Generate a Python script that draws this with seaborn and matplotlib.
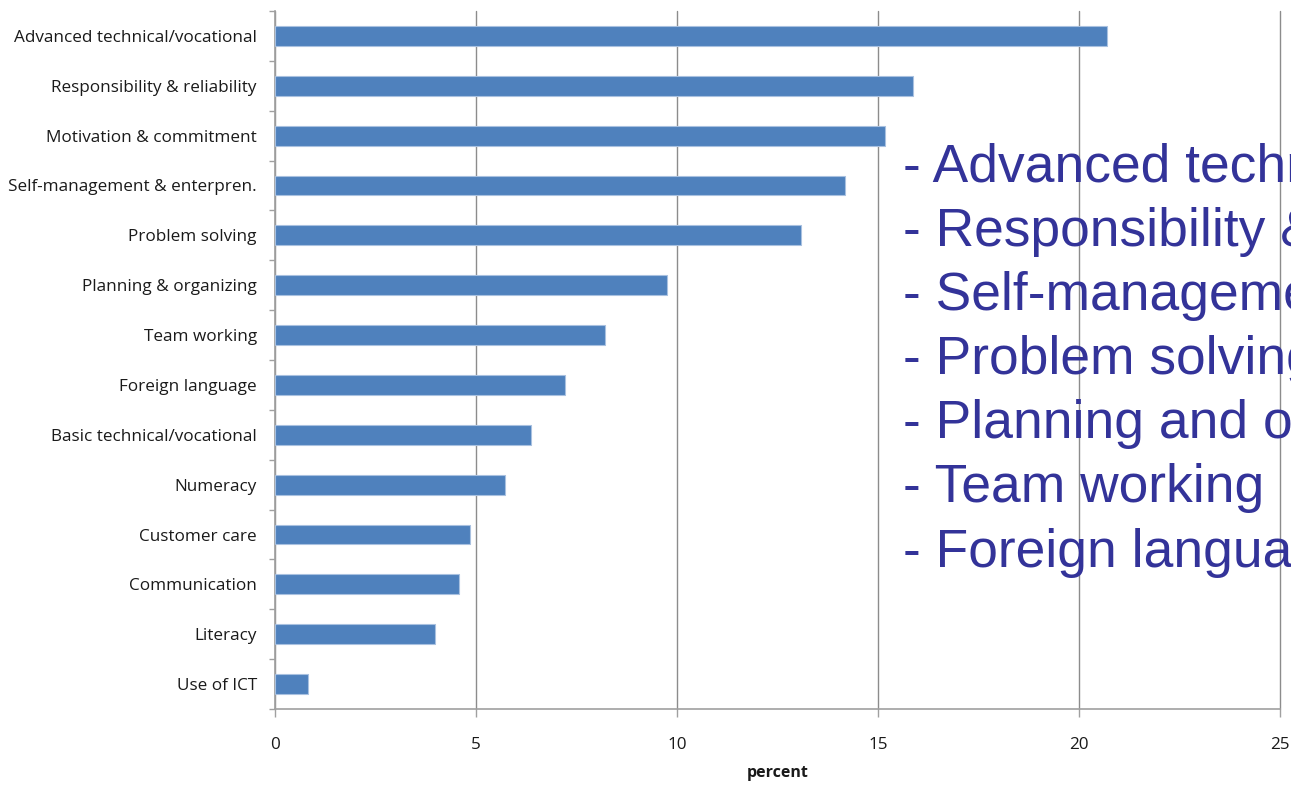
import matplotlib
matplotlib.use("Agg")
import matplotlib.pyplot as plt
import seaborn as sns
import pandas as pd
import numpy as np

skills = [
    "Advanced technical/vocational",
    "Responsibility & reliability",
    "Motivation & commitment",
    "Self-management & enterpren.",
    "Problem solving",
    "Planning & organizing",
    "Team working",
    "Foreign language",
    "Basic technical/vocational",
    "Numeracy",
    "Customer care",
    "Communication",
    "Literacy",
    "Use of ICT",
]
percent = [20.7, 15.87, 15.17, 14.18, 13.08, 9.75, 8.2, 7.21, 6.37, 5.72, 4.85, 4.58, 3.98, 0.82]

highlights = [
    "- Advanced technical/vocational",
    "- Responsibility & reliability",
    "- Self-management & entrepreneurship",
    "- Problem solving",
    "- Planning and organizing",
    "- Team working",
    "- Foreign language",
]

df = pd.DataFrame({"skill": skills, "percent": percent})

sns.set_theme(style="white")
plt.rcParams["font.family"] = ["Open Sans", "DejaVu Sans"]

fig = plt.figure(figsize=(12.91, 7.85), dpi=100)
ax = fig.add_axes([0.2130, 0.0968, 0.7785, 0.8892])

sns.barplot(data=df, x="percent", y="skill", orient="h", color="#4F81BD",
            saturation=1, width=0.4, edgecolor="#A9C1E0", linewidth=0.8, ax=ax, zorder=3)

ax.set_xlim(0, 25)
ax.set_ylim(len(skills) - 0.5, -0.5)
ax.set_xticks([0, 5, 10, 15, 20, 25])
ax.set_xticklabels(["0", "5", "10", "15", "20", "25"])
ax.set_yticks(np.arange(len(skills)))
ax.set_yticklabels(skills)
ax.set_yticks(np.arange(-0.5, len(skills), 1), minor=True)

grid_c = "#8C8C8C"
ax.xaxis.grid(True, color=grid_c, linewidth=1.0, zorder=0)
for gl in ax.get_xgridlines():
    gl.set_clip_on(False)
ax.set_axisbelow(True)
for s in ["top", "right"]:
    ax.spines[s].set_visible(False)
for s in ["left", "bottom"]:
    ax.spines[s].set_color("#A0A0A0")
    ax.spines[s].set_linewidth(1.2)

ax.tick_params(axis="y", which="major", length=0, pad=13, labelsize=12.3, labelcolor="#1a1a1a")
ax.tick_params(axis="y", which="minor", length=4, color="#A0A0A0", width=1, direction="out", left=True)
ax.tick_params(axis="x", which="major", length=6, color="#A0A0A0", width=1, direction="out",
               bottom=True, pad=14, labelsize=12.3, labelcolor="#1a1a1a")

ax.set_ylabel("")
ax.set_xlabel("percent", fontsize=11.5, fontweight="bold", labelpad=9, color="#1a1a1a")

y0 = 0.769
for i, line in enumerate(highlights):
    fig.text(0.6995, y0 - i * 0.0818, line, fontsize=38.4, color="#333399",
             family=["Liberation Sans", "DejaVu Sans"], va="baseline", ha="left")

fig.savefig("out.png", dpi=100)
